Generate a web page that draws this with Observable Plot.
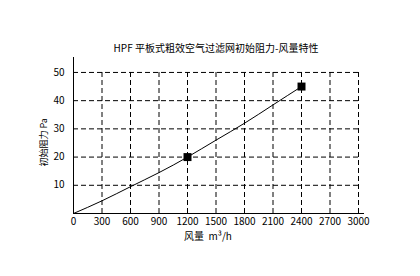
<!DOCTYPE html>
<html>
<head>
<meta charset="utf-8">
<script src="https://cdn.jsdelivr.net/npm/d3@7"></script>
<script src="https://cdn.jsdelivr.net/npm/@observablehq/plot@0.6"></script>
<style>
html,body{margin:0;padding:0;background:#fff;}
</style>
</head>
<body>
<div id="chart"></div>
<script>
const title = "HPF 平板式粗效空气过滤网初始阻力-风量特性";
const xLabel = "风量  m³/h";
const yLabel = "初始阻力 Pa";
const xTicks = [0,300,600,900,1200,1500,1800,2100,2400,2700,3000];
const yTicks = [10,20,30,40,50];
const curveFlow = [0,300,600,900,1200,1500,1800,2100,2400];
const curveResist = [0,4.5,9.5,14.5,20,26,32,38.5,45];
const markerFlow = [1200,2400];
const markerResist = [20,45];

const curve = curveFlow.map((x,i)=>({x, y: curveResist[i]}));
const markers = markerFlow.map((x,i)=>({x, y: markerResist[i]}));
const font = "'Noto Sans CJK SC', 'DejaVu Sans', sans-serif";

const chart = Plot.plot({
  width: 420,
  height: 276,
  marginLeft: 73,
  marginRight: 56,
  marginTop: 57,
  marginBottom: 63,
  style: {fontFamily: font, fontSize: "10px", color: "#000", background: "#fff"},
  x: {domain: [0, 3063], ticks: xTicks},
  y: {domain: [0, 55.3], ticks: yTicks},
  marks: [
    Plot.ruleY(yTicks, {x1: 0, x2: 3000, stroke: "#000", strokeDasharray: "5,3", strokeWidth: 1}),
    Plot.ruleX(xTicks.filter(d => d > 0), {y1: 0, y2: 50, stroke: "#000", strokeDasharray: "5,3", strokeWidth: 1}),
    Plot.ruleX([0], {stroke: "#000", strokeWidth: 1}),
    Plot.ruleY([0], {stroke: "#000", strokeWidth: 1}),
    Plot.axisX(xTicks, {tickSize: 0, tickPadding: 4, label: null, tickFormat: d => String(d), fill: "#000", fontSize: 10}),
    Plot.axisY(yTicks, {tickSize: 0, tickPadding: 9, label: null, fill: "#000", fontSize: 10}),
    Plot.line(curve, {x: "x", y: "y", curve: "natural", stroke: "#000", strokeWidth: 1}),
    Plot.dot(markers, {x: "x", y: "y", symbol: "square", r: 4.5, fill: "#000", stroke: "none"}),
    Plot.text([title], {frameAnchor: "top", dx: -3, dy: -13, text: d => d, fontSize: 10, fill: "#000"}),
    Plot.text([xLabel], {frameAnchor: "bottom", dx: -11, dy: 26, text: d => d, fontSize: 10, fill: "#000"}),
    Plot.text([yLabel], {frameAnchor: "left", y: [25.2], dx: -29, rotate: -90, textAnchor: "middle", text: d => d, fontSize: 9, fill: "#000"})
  ]
});
document.getElementById("chart").appendChild(chart);
</script>
</body>
</html>
